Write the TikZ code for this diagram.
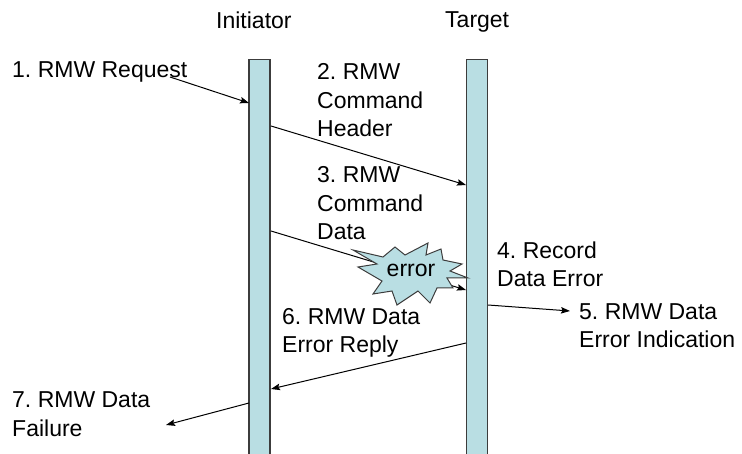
\documentclass[tikz,border=0pt]{standalone}
\usepackage{fontspec}
\setmainfont{Liberation Sans}
\frenchspacing
\usepackage{tikz}
\usetikzlibrary{positioning,calc,arrows.meta}
\definecolor{barblue}{RGB}{185,222,227}
\definecolor{bargray}{RGB}{60,60,60}

\begin{document}
\begin{tikzpicture}[
    x=1pt, y=-1pt,
    txt/.style={align=left, anchor=base west, inner sep=0pt, font=\fontsize{23}{28.7}\selectfont},
    head/.style={txt},
    bar/.style={rectangle, draw=bargray, line width=1.4pt, fill=barblue, minimum width=21pt, minimum height=430pt, anchor=north, inner sep=0pt},
    burst/.style={draw=bargray, line width=1pt, fill=barblue, line join=miter},
    arrow/.style={-{Stealth[length=9pt,width=6.5pt,inset=1.5pt]}, line width=1pt}
]
    \clip (0,0) rectangle (742,454);

    % lifelines
    \node[head] (hini) at (216,29) {Initiator};
    \node[head] (htgt) at (445,28) {Target};
    \node[bar] (ini) at (259.5,59) {};
    \node[bar] (tgt) at (477,59) {};

    % steps (y = baseline of the last line)
    \node[txt] (req) at (12,78) {1. RMW Request};
    \node[txt] (hdr) at (317,137) {2. RMW\\Command\\Header};
    \node[txt] (dat) at (317,240) {3. RMW\\Command\\Data};
    \node[txt] (rec) at (497,287) {4. Record\\Data Error};
    \node[txt] (ind) at (579,348) {5. RMW Data\\Error Indication};
    \node[txt] (rep) at (282,353) {6. RMW Data\\Error Reply};
    \node[txt] (fail) at (12,436) {7. RMW Data\\Failure};

    % end points on the bars
    \coordinate (reqA) at (170,77);
    \coordinate (reqB) at (249,103);
    \coordinate (hdrA) at (271,126);
    \coordinate (hdrB) at (466,185);
    \coordinate (datA) at (271,231);
    \coordinate (datB) at (466,290);
    \coordinate (indA) at (488,305);
    \coordinate (indB) at (570,311);
    \coordinate (repA) at (466,343);
    \coordinate (repB) at (271,389);
    \coordinate (failA) at (249,403);
    \coordinate (failB) at (166,425);

    \draw[arrow] (reqA) -- (reqB);
    \draw[arrow] (hdrA) -- (hdrB);
    \draw[arrow] (datA) -- (datB);
    \draw[arrow] (indA) -- (indB);
    \draw[arrow] (repA) -- (repB);
    \draw[arrow] (failA) -- (failB);

    % error burst
    \draw[burst] (353,250) -- (383,257) -- (395,247) -- (405,255) -- (428,243)
        -- (426,255) -- (441,249) -- (443,260) -- (462,264) -- (450,271)
        -- (468,278) -- (447,278) -- (453,288) -- (437,288) -- (430,303)
        -- (418,291) -- (397,305) -- (392,291) -- (373,294) -- (382,281)
        -- (358,267) -- (377,264) -- cycle;
    \node[txt, anchor=base] (err) at (411,277) {error};
\end{tikzpicture}
\end{document}
